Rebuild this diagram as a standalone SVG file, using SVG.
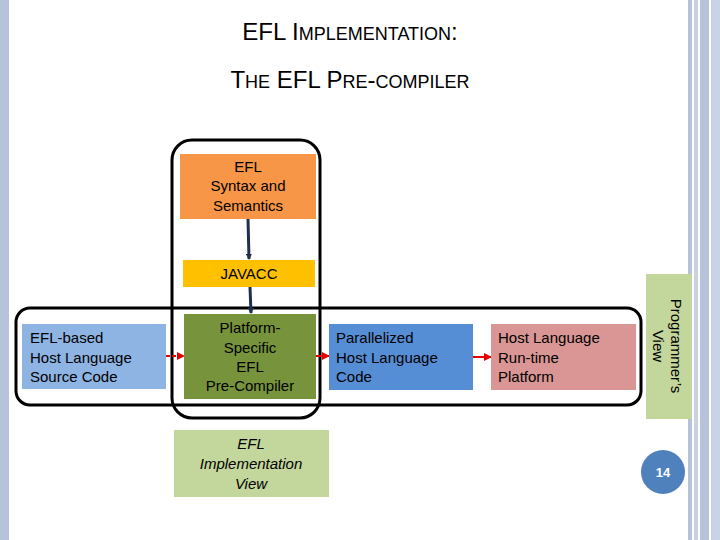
<svg xmlns="http://www.w3.org/2000/svg" width="720" height="540" viewBox="0 0 720 540">
<defs>
<style>
.t{font-family:"Liberation Sans",Arial,sans-serif;font-size:15px;fill:#000}
.c{text-anchor:middle}
.ttl{font-family:"Liberation Sans",Arial,sans-serif;fill:#000;text-anchor:middle}
</style>
<marker id="bk" markerWidth="6" markerHeight="6" refX="5" refY="3" orient="auto" markerUnits="userSpaceOnUse" viewBox="0 0 6 6"><path d="M0,0L6,3L0,6z" fill="#1f2f4f"/></marker>
<marker id="rd" markerWidth="8" markerHeight="8" refX="7" refY="4" orient="auto" markerUnits="userSpaceOnUse" viewBox="0 0 8 8"><path d="M0,0L8,4L0,8z" fill="#e00000"/></marker>
</defs>
<rect width="720" height="540" fill="#fff"/>
<rect x="0" y="0" width="9" height="540" fill="#b6c3da"/>
<rect x="688" y="0" width="4" height="540" fill="#b6c3da"/>
<rect x="694" y="0" width="4" height="540" fill="#c9d3e5"/>
<rect x="700" y="0" width="9" height="540" fill="#b6c3da"/>
<rect x="711" y="0" width="9" height="540" fill="#c9d3e5"/>
<text class="ttl" x="350" y="40" font-size="24">EFL I<tspan font-size="18">MPLEMENTATION</tspan>:</text>
<text class="ttl" x="350" y="88" font-size="24">T<tspan font-size="18">HE</tspan> EFL P<tspan font-size="18">RE</tspan>-<tspan font-size="18">COMPILER</tspan></text>
<g id="connectors" fill="none">
<rect x="172" y="140" width="148" height="278" rx="20" stroke="#000" stroke-width="3"/>
<rect x="16" y="308" width="625" height="97" rx="14" stroke="#000" stroke-width="3"/>
<path d="M248,219L249,259" stroke="#1f2f4f" stroke-width="3" marker-end="url(#bk)"/>
<path d="M250,287L251,313" stroke="#1f2f4f" stroke-width="3" marker-end="url(#bk)"/>
<path d="M166,356L184,356" stroke="#e00000" stroke-width="2" stroke-dasharray="4,2" marker-end="url(#rd)"/>
<path d="M316,356L329,356" stroke="#e00000" stroke-width="2" marker-end="url(#rd)"/>
<path d="M473,357L491,357" stroke="#e00000" stroke-width="2" marker-end="url(#rd)"/>
</g>
<g id="syntax"><rect x="180" y="154" width="136" height="65" fill="#f79646"/>
<text class="t c" x="248" y="172">EFL</text><text class="t c" x="248" y="191">Syntax and</text><text class="t c" x="248" y="211">Semantics</text></g>
<g id="javacc"><rect x="183" y="260" width="132" height="27" fill="#ffc000"/>
<text class="t c" x="249" y="279">JAVACC</text></g>
<g id="precompiler"><rect x="184" y="314" width="132" height="85" fill="#77933c"/>
<text class="t c" x="250" y="333">Platform-</text><text class="t c" x="250" y="353">Specific</text><text class="t c" x="250" y="372">EFL</text><text class="t c" x="250" y="391">Pre-Compiler</text></g>
<g id="source"><rect x="22" y="324" width="144" height="65" fill="#8eb4e3"/>
<text class="t" x="30" y="343">EFL-based</text><text class="t" x="30" y="363">Host Language</text><text class="t" x="30" y="382">Source Code</text></g>
<g id="parallel"><rect x="329" y="324" width="144" height="66" fill="#558ed5"/>
<text class="t" x="336" y="343">Parallelized</text><text class="t" x="336" y="363">Host Language</text><text class="t" x="336" y="382">Code</text></g>
<g id="runtime"><rect x="491" y="324" width="145" height="66" fill="#d99694"/>
<text class="t" x="498" y="343">Host Language</text><text class="t" x="498" y="363">Run-time</text><text class="t" x="498" y="382">Platform</text></g>
<g id="progview"><rect x="646" y="274" width="46" height="145" fill="#c3d69b"/>
<text class="t c" transform="translate(671,346) rotate(90)" x="0" y="0">Programmer’s</text>
<text class="t c" transform="translate(653,346) rotate(90)" x="0" y="0">View</text></g>
<g id="implview"><rect x="174" y="430" width="155" height="67" fill="#c3d69b"/>
<text class="t c" x="251" y="449" font-style="italic">EFL</text><text class="t c" x="251" y="469" font-style="italic">Implementation</text><text class="t c" x="251" y="489" font-style="italic">View</text></g>
<g id="page"><circle cx="663" cy="472" r="22" fill="#4f81bd"/>
<text x="663" y="477" text-anchor="middle" font-family="Liberation Sans,Arial,sans-serif" font-size="13" font-weight="bold" fill="#fff">14</text></g>
</svg>
